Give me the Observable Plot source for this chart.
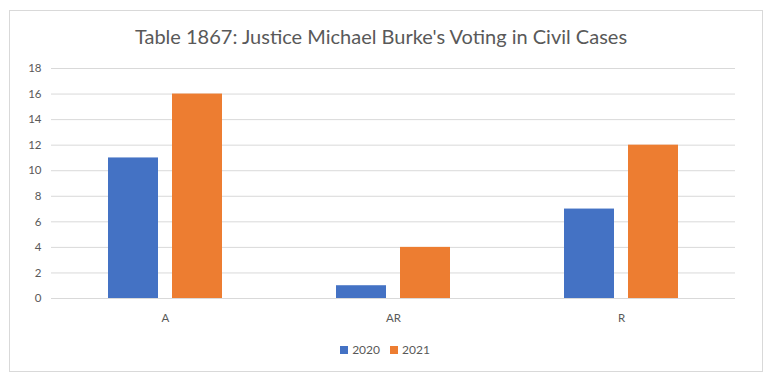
<!DOCTYPE html>
<html>
<head>
<meta charset="utf-8">
<script src="https://cdn.jsdelivr.net/npm/d3@7"></script>
<script src="https://cdn.jsdelivr.net/npm/@observablehq/plot@0.6"></script>
<style>
  html, body { margin: 0; padding: 0; background: #fff; }
  #wrap { position: relative; width: 770px; height: 385px; overflow: hidden; font-family: Lato, "Open Sans", sans-serif; color: #595959; }
  #frame { position: absolute; left: 9px; top: 10px; width: 754px; height: 362px; border: 1px solid #d9d9d9; box-sizing: border-box; }
  #title { position: absolute; left: -4px; top: 24px; width: 770px; text-align: center; font-size: 20px; line-height: 24px; color: #595959; }
  #chart { position: absolute; left: 0; top: 55px; }
  #legend { position: absolute; left: 0; top: 342px; width: 770px; display: flex; justify-content: center; gap: 10px; font-size: 12px; line-height: 16px; }
  .item { display: flex; align-items: center; gap: 4px; }
  .sw { width: 8px; height: 8px; display: inline-block; }
</style>
</head>
<body>
<div id="wrap">
  <div id="frame"></div>
  <div id="title"></div>
  <div id="chart"></div>
  <div id="legend"></div>
</div>
<script>
const titleText = "Table 1867: Justice Michael Burke's Voting in Civil Cases";
const categories = ["A", "AR", "R"];
const years = ["2020", "2021"];
const values2020 = [11, 1, 7];
const values2021 = [16, 4, 12];
const yTicks = [0, 2, 4, 6, 8, 10, 12, 14, 16, 18];
const colors = ["#4472C4", "#ED7D31"];

const data = [];
categories.forEach((c, i) => {
  data.push({cat: c, year: years[0], value: values2020[i]});
  data.push({cat: c, year: years[1], value: values2021[i]});
});

document.getElementById("title").textContent = titleText;

const chart = Plot.plot({
  width: 770,
  height: 280,
  marginLeft: 50,
  marginRight: 35,
  marginTop: 13,
  marginBottom: 37,
  style: {fontFamily: "Lato, 'Open Sans', sans-serif", fontSize: "11.5px", color: "#595959", background: "transparent"},
  fx: {domain: categories, padding: 0, axis: "bottom", tickSize: 0, tickPadding: 15, label: null},
  x: {domain: years, paddingInner: 0.217, paddingOuter: 0.884, axis: null},
  y: {domain: [0, 18], ticks: yTicks, tickSize: 0, tickPadding: 10, label: null, tickFormat: d => String(d)},
  color: {domain: years, range: colors},
  marks: [
    Plot.ruleY(yTicks, {y: d => d, stroke: "#d9d9d9", strokeWidth: 1}),
    Plot.barY(data, {fx: "cat", x: "year", y: "value", fill: "year"})
  ]
});
document.getElementById("chart").appendChild(chart);

const legend = document.getElementById("legend");
years.forEach((y, i) => {
  const item = document.createElement("div");
  item.className = "item";
  const sw = document.createElement("span");
  sw.className = "sw";
  sw.style.background = colors[i];
  const t = document.createElement("span");
  t.textContent = y;
  item.appendChild(sw);
  item.appendChild(t);
  legend.appendChild(item);
});
</script>
</body>
</html>
